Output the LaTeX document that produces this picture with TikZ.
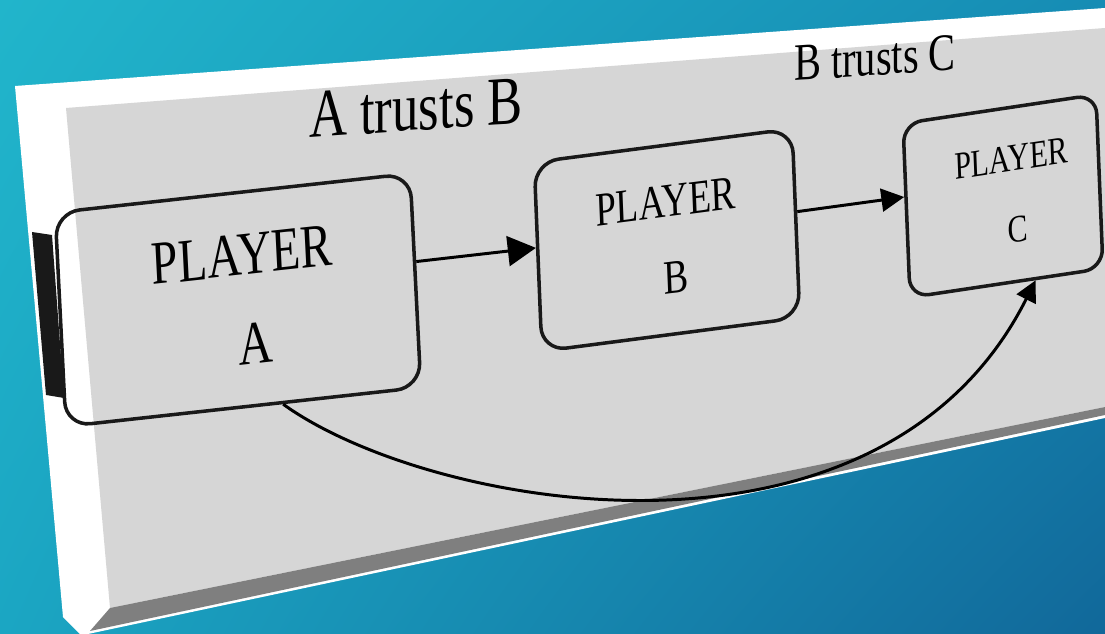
\documentclass[tikz,border=0pt]{standalone}
\usepackage{fontspec}
\usepackage{graphicx}
\setmainfont{Liberation Serif}
\usetikzlibrary{arrows.meta,positioning,shadings}
\definecolor{bgtl}{RGB}{33,181,203}
\definecolor{bgtr}{RGB}{22,140,180}
\definecolor{bgbl}{RGB}{27,166,195}
\definecolor{bgbr}{RGB}{17,104,154}
\definecolor{panelgray}{RGB}{214,214,214}
\definecolor{rimgray}{RGB}{127,127,127}
\newcommand{\tall}[1]{\scalebox{1}[1.3]{#1}}

\begin{document}
\begin{tikzpicture}[x=0.02cm, y=-0.02cm,
  player/.style={draw=black!90, line width=2pt, rounded corners=14pt, align=center, inner sep=0pt, transform shape, text=black},
  trust/.style={line width=1.7pt, -{Triangle[length=16pt,width=17pt]}},
  lbl/.style={transform shape, yslant=0.07, yscale=1.3, text=black, inner sep=0pt}]
  \useasboundingbox (0,0) rectangle (1105,634);
  \shade[upper left=bgtl, upper right=bgtr, lower left=bgbl, lower right=bgbr] (0,0) rectangle (1105,634);
  \fill[white] (15,86) -- (1105,8) -- (1105,418) -- (88,634) -- (80,634) -- (63,617) -- cycle;
  \fill[panelgray] (66,108) -- (1105,28) -- (1105,407) -- (110,608) -- cycle;
  \fill[rimgray] (110,608) -- (1105,407) -- (1105,415) -- (90,631) -- cycle;
  \fill[black!90] (32,232) -- (52,235) -- (64,398) -- (46,395) -- cycle;

  \node[player, minimum width=7.1cm, minimum height=4.3cm, yslant=0.11, xslant=-0.05, font={\fontsize{27}{51}\selectfont}] (A) at (238,300) {\hspace*{7pt}\tall{PLAYER}\\\hspace*{17pt}\tall{A}};
  \node[player, minimum width=5.16cm, minimum height=3.8cm, yslant=0.13, xslant=-0.04, font={\fontsize{21}{44}\selectfont}] (B) at (667,240) {\tall{PLAYER}\\\hspace*{9pt}\tall{B}};
  \node[player, minimum width=3.86cm, minimum height=3.5cm, yslant=0.15, xslant=-0.04, rounded corners=11pt, font={\fontsize{17}{41}\selectfont}] (C) at (1003,196) {\hspace*{11pt}\tall{PLAYER}\\\hspace*{15pt}\tall{C}};
  \node[lbl, font={\fontsize{30}{36}\selectfont}] (AtB) at (416,108) {A trusts B};
  \node[lbl, font={\fontsize{23}{28}\selectfont}] (BtC) at (875,58) {B trusts C};

  \draw[trust] (A.6) -- (B.176);
  \draw[trust, -{Triangle[length=13pt,width=13pt]}] (B.5) -- (C.172);
  \draw[trust, -{Triangle[length=12pt,width=12pt]}] (A.-70) .. controls (430,510) and (880,590) .. (C.-72);
\end{tikzpicture}
\end{document}
